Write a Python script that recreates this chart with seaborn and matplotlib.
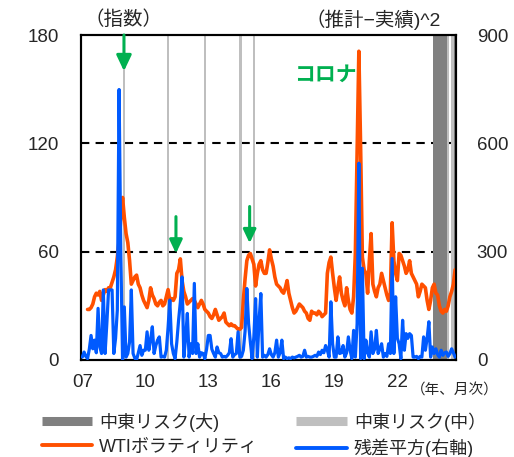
import numpy as np
import pandas as pd
import matplotlib
matplotlib.use("Agg")
import matplotlib.pyplot as plt
from matplotlib.lines import Line2D
import seaborn as sns

# ---------------- data ----------------
# monthly, Jan 2007 (index 0) .. Oct 2024 (index 213)
wti_vol = [
    np.nan, np.nan, np.nan, 28, 28, 29, 31, 35, 37, 36, 38, 33,      # 2007
    36, 39, 38, 40, 40, 43, 46, 50, 57, 66, 78, 90,                  # 2008
    79, 70, 65, 55, 42, 44, 46, 47, 42, 40, 36, 33,                  # 2009
    31, 29, 33, 40, 36, 34, 31, 30, 32, 33, 30, 31,                  # 2010
    35, 39, 33, 34, 33, 35, 48, 50, 56, 44, 38, 35,                  # 2011
    31, 32, 33, 34, 33, 31, 29, 31, 33, 31, 28, 27,                  # 2012
    26, 24, 23, 25, 28, 25, 22, 23, 24, 26, 21, 20,                  # 2013
    19, 20, 19, 19, 18, 17, 17, 18, 33, 45, 55, 58,                  # 2014
    59, 56, 53, 41, 48, 53, 55, 50, 48, 48, 54, 61,                  # 2015
    56, 52, 46, 42, 41, 40, 38, 37, 40, 44, 37, 33,                  # 2016
    29, 26, 27, 29, 31, 30, 29, 27, 26, 23, 22, 27,                  # 2017
    26, 26, 25, 27, 26, 24, 25, 26, 48, 54, 57, 48,                  # 2018
    40, 33, 40, 46, 37, 33, 30, 40, 33, 28, 26, 35,                  # 2019
    59, 115, 171, 118, 57, 50, 48, 37, 55, 70, 42, 38,               # 2020
    35, 40, 42, 48, 44, 40, 36, 33, 37, 76, 55, 48,                  # 2021
    44, 59, 58, 55, 52, 48, 50, 55, 48, 46, 44, 42,                  # 2022
    35, 38, 42, 41, 40, 33, 28, 33, 40, 42, 37, 36,                  # 2023
    30, 27, 26, 28, 27, 30, 35, 38, 42, 50,                          # 2024
]
resid_sq = [
    8, 22, 10, 4, 30, 68, 31, 55, 20, 143, 36, 18,                   # 2007
    194, 18, 100, 194, 194, 194, 18, 60, 138, 749, 295, 0,           # 2008
    147, 8, 18, 50, 194, 18, 5, 0, 20, 40, 13, 27,                   # 2009
    27, 78, 27, 55, 92, 18, 40, 55, 64, 8, 10, 8,                    # 2010
    27, 90, 166, 45, 18, 4, 50, 110, 160, 230, 8, 60,                # 2011
    129, 8, 45, 18, 212, 18, 45, 8, 20, 18, 4, 30,                   # 2012
    68, 68, 30, 18, 8, 36, 20, 18, 8, 10, 8, 13,                     # 2013
    20, 59, 8, 15, 18, 78, 8, 10, 27, 80, 198, 101,                  # 2014
    50, 4, 64, 170, 8, 110, 184, 8, 13, 8, 15, 31,                   # 2015
    15, 8, 20, 55, 8, 20, 55, 4, 8, 4, 6, 4,                         # 2016
    8, 6, 8, 10, 13, 8, 10, 27, 8, 10, 8, 8,                         # 2017
    10, 13, 10, 22, 15, 27, 20, 40, 27, 8, 161, 45,                  # 2018
    8, 8, 64, 18, 20, 40, 8, 20, 64, 27, 4, 82,                      # 2019
    8, 100, 545, 4, 254, 4, 55, 20, 8, 78, 18, 30,                   # 2020
    82, 18, 30, 45, 8, 18, 10, 45, 18, 281, 18, 175,                 # 2021
    60, 45, 4, 110, 27, 73, 60, 73, 68, 8, 8, 10,                    # 2022
    4, 10, 8, 64, 27, 60, 106, 8, 36, 18, 31, 15,                    # 2023
    8, 27, 13, 20, 22, 10, 18, 31, 20, 8,                            # 2024
]
months = np.arange(len(wti_vol))
risk_big_months = [201, 202, 203, 204, 205, 206, 207, 208, 213]
risk_mid_months = [24, 49, 70, 90, 91, 98, 209, 211, 212]
xtick_months = [0, 36, 72, 108, 144, 180]
xtick_labels = ["07", "10", "13", "16", "19", "22"]
arrow_months = [23.8, 53.5, 95.6]
arrow_tips = [160, 59, 64.7]
arrow_tails = [180, 79.4, 85]

df = pd.DataFrame({"month": months, "wti": wti_vol, "resid": resid_sq})

# ---------------- style ----------------
sns.set_style("white")
plt.rcParams["font.family"] = ["Liberation Sans", "Noto Sans CJK JP", "DejaVu Sans"]

ORANGE = "#FF5000"
BLUE = "#005AFF"
DARK = "#808080"
LIGHT = "#BFBFBF"
GREEN = "#00B050"

fig = plt.figure(figsize=(5.14, 4.57), dpi=100)
ax = fig.add_axes([81 / 514, 1 - 360 / 457, 375 / 514, 325 / 457])
ax2 = ax.twinx()

# risk bands
ax.bar(risk_mid_months, [180] * len(risk_mid_months), width=1.0, color=LIGHT,
       linewidth=0, zorder=1)
ax.bar(risk_big_months, [180] * len(risk_big_months), width=1.0, color=DARK,
       linewidth=0, zorder=1)

sns.lineplot(data=df, x="month", y="wti", ax=ax, color=ORANGE, linewidth=2.6,
             zorder=3, legend=False)
sns.lineplot(data=df, x="month", y="resid", ax=ax2, color=BLUE, linewidth=2.3,
             zorder=3, legend=False)
for l in ax.lines + ax2.lines:
    l.set_solid_joinstyle("round")
    l.set_solid_capstyle("round")

ax.set_xlim(-0.75, 213.5)
ax.set_ylim(0, 180)
ax2.set_ylim(0, 900)
ax.set_yticks([0, 60, 120, 180])
ax2.set_yticks([0, 300, 600, 900])
ax.set_xticks(xtick_months)
ax.set_xticklabels(xtick_labels)
ax.set_xlabel("")
ax.set_ylabel("")
ax2.set_ylabel("")

for a in (ax, ax2):
    a.tick_params(axis="both", length=0, labelsize=13.5)
    for s in a.spines.values():
        s.set_color("black")
        s.set_linewidth(1.5)
ax.tick_params(axis="y", pad=16)
ax2.tick_params(axis="y", pad=15)
ax.tick_params(axis="x", pad=10)

# dashed grid at 60 & 120
ax.set_axisbelow(True)
for yv in [60, 120]:
    ax.axhline(yv, color="black", linewidth=1.5, linestyle=(0, (4, 3)), zorder=0.5)

# arrows
for xm, tip, tail in zip(arrow_months, arrow_tips, arrow_tails):
    hw = 1.0 if tail == 180 else 0.85
    ax2.annotate("", xy=(xm, tip * 5), xytext=(xm, tail * 5),
                 arrowprops=dict(arrowstyle=f"-|>,head_length={0.95*hw},head_width={0.45*hw}",
                                 color=GREEN, lw=2.2, shrinkA=0, shrinkB=0),
                 zorder=5, annotation_clip=False)

ax2.text(156.5, 158, "コロナ", color=GREEN, fontsize=15, fontweight="bold",
         ha="right", va="center", family=["Noto Sans CJK JP"], zorder=6,
         transform=ax.transData)

fig.text(123 / 514, 1 - 20 / 457, "（指数）", ha="center", va="center", fontsize=14)
fig.text(373 / 514, 1 - 20 / 457, "（推計−実績)^2", ha="center", va="center", fontsize=14)
fig.text(455 / 514, 1 - 391 / 457, "（年、月次）", ha="center", va="center", fontsize=10.5)

handles = [
    Line2D([], [], color=DARK, linewidth=6.5, solid_capstyle="butt"),
    Line2D([], [], color=LIGHT, linewidth=6.5, solid_capstyle="butt"),
    Line2D([], [], color=ORANGE, linewidth=2.8, solid_capstyle="round"),
    Line2D([], [], color=BLUE, linewidth=2.8, solid_capstyle="round"),
]
labels = ["中東リスク(大)", "中東リスク(中）", "WTIボラティリティ", "残差平方(右軸)"]
# order so columns are (大, WTI) and (中, 残差)
order = [0, 2, 1, 3]
fig.legend([handles[i] for i in order], [labels[i] for i in order], ncol=2,
           loc="lower left", bbox_to_anchor=(29 / 514, -0.03), frameon=False,
           fontsize=13, handlelength=2.8, handletextpad=0.4, columnspacing=2.1,
           labelspacing=0.38, borderpad=0.2)

fig.savefig("out.png", dpi=100)
